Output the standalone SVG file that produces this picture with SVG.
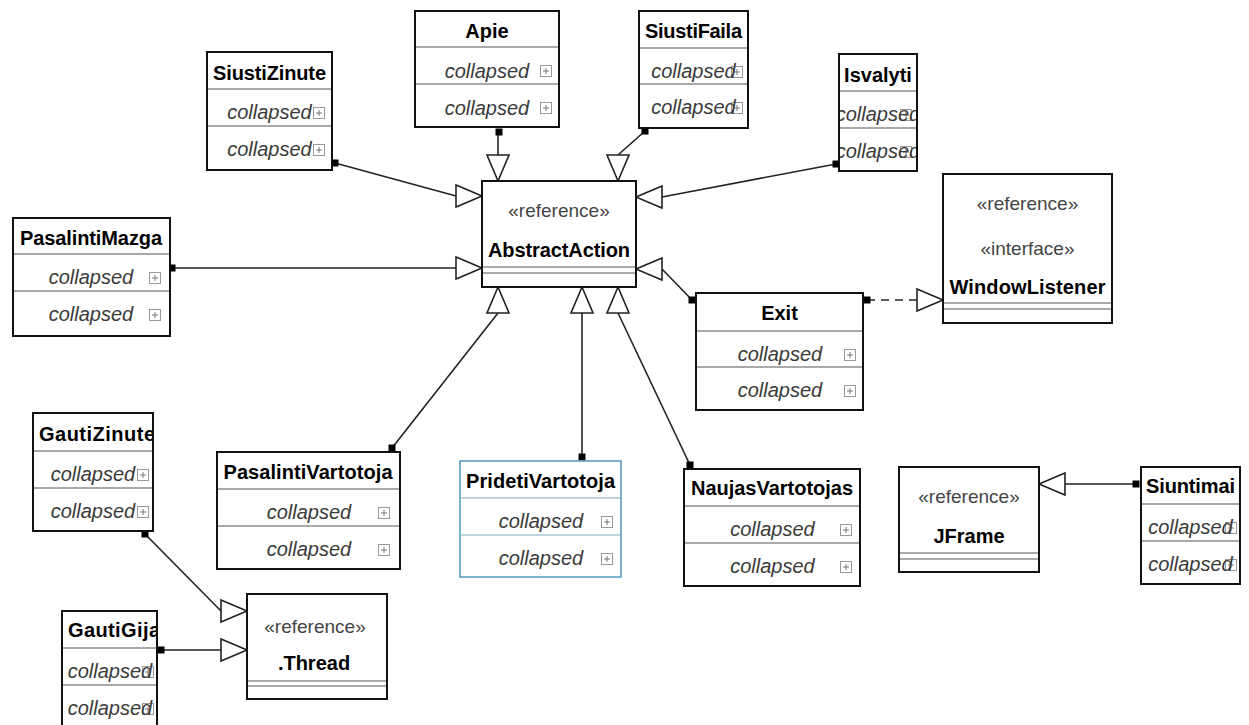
<svg xmlns="http://www.w3.org/2000/svg" xmlns:xlink="http://www.w3.org/1999/xlink" width="1249" height="725" viewBox="0 0 1249 725">
<style>
.box{fill:#fff;stroke:#111;stroke-width:2}
.blue{fill:#fff;stroke:#5a9fc6;stroke-width:1.6}
.dv{stroke:#555;stroke-width:1.2}
.dvb{stroke:#7fa9bf;stroke-width:1.2}
.ttl{font-family:"Liberation Sans",Arial,sans-serif;font-weight:bold;font-size:20px;fill:#000;text-anchor:middle}
.ttls{font-family:"Liberation Sans",Arial,sans-serif;font-weight:bold;font-size:20px;fill:#000;text-anchor:start}
.col{font-family:"Liberation Sans",Arial,sans-serif;font-style:italic;font-size:20px;fill:#3a3a3a;text-anchor:middle}
.st{font-family:"Liberation Sans",Arial,sans-serif;font-size:19px;fill:#444;text-anchor:middle}
.edge{stroke:#222;stroke-width:1.6;fill:none}
.dash{stroke:#222;stroke-width:1.6;fill:none;stroke-dasharray:8 6}
.tri{fill:#fff;stroke:#222;stroke-width:1.6}
.sq{fill:#000}
</style>
<defs>
<g id="plus"><rect x="0.5" y="0.5" width="11" height="11" fill="#fff" stroke="#999" stroke-width="1"/><path d="M3 6h6M6 3v6" stroke="#777" stroke-width="1"/></g>
<clipPath id="cSF"><rect x="640" y="12" width="107" height="115"/></clipPath>
<clipPath id="cIS"><rect x="840" y="55" width="76" height="115"/></clipPath>
<clipPath id="cGZ"><rect x="34" y="414" width="118" height="116"/></clipPath>
<clipPath id="cGG"><rect x="63" y="612" width="93" height="115"/></clipPath>
<clipPath id="cSI"><rect x="1142" y="468" width="97" height="115"/></clipPath>
</defs>
<rect width="1249" height="725" fill="#fff"/>

<g id="connectors">
<line class="edge" x1="335" y1="163" x2="456" y2="196"/>
<polygon class="tri" points="482,196 456,185 456,207"/>
<rect class="sq" x="331.5" y="159.5" width="7" height="7"/>

<line class="edge" x1="498" y1="132" x2="498" y2="155"/>
<polygon class="tri" points="498,181 487,155 509,155"/>
<rect class="sq" x="495.5" y="128.5" width="7" height="7"/>

<line class="edge" x1="645" y1="131" x2="618" y2="155"/>
<polygon class="tri" points="618,181 607,155 629,155"/>
<rect class="sq" x="641.5" y="127.5" width="7" height="7"/>

<line class="edge" x1="836" y1="164" x2="662" y2="197"/>
<polygon class="tri" points="636,197 662,186 662,208"/>
<rect class="sq" x="832.5" y="160.5" width="7" height="7"/>

<line class="edge" x1="172" y1="268" x2="456" y2="268"/>
<polygon class="tri" points="482,268 456,257 456,279"/>
<rect class="sq" x="168.5" y="264.5" width="7" height="7"/>

<line class="edge" x1="692" y1="300" x2="662" y2="269"/>
<polygon class="tri" points="636,269 662,258 662,280"/>
<rect class="sq" x="688.5" y="296.5" width="7" height="7"/>

<line class="edge" x1="392" y1="448" x2="498" y2="313"/>
<polygon class="tri" points="498,287 487,313 509,313"/>
<rect class="sq" x="388.5" y="444.5" width="7" height="7"/>

<line class="edge" x1="582" y1="457" x2="582" y2="313"/>
<polygon class="tri" points="582,287 571,313 593,313"/>
<rect class="sq" x="578.5" y="453.5" width="7" height="7"/>

<line class="edge" x1="690" y1="465" x2="618" y2="313"/>
<polygon class="tri" points="618,287 607,313 629,313"/>
<rect class="sq" x="686.5" y="461.5" width="7" height="7"/>

<line class="dash" x1="867" y1="300" x2="917" y2="300"/>
<polygon class="tri" points="943,300 917,289 917,311"/>
<rect class="sq" x="863.5" y="296.5" width="7" height="7"/>

<line class="edge" x1="1136" y1="484" x2="1065" y2="484"/>
<polygon class="tri" points="1039,484 1065,473 1065,495"/>
<rect class="sq" x="1132.5" y="480.5" width="7" height="7"/>

<line class="edge" x1="145" y1="534" x2="221" y2="611"/>
<polygon class="tri" points="247,611 221,600 221,622"/>
<rect class="sq" x="141.5" y="530.5" width="7" height="7"/>

<line class="edge" x1="161" y1="650" x2="221" y2="650"/>
<polygon class="tri" points="247,650 221,639 221,661"/>
<rect class="sq" x="157.5" y="646.5" width="7" height="7"/>
</g>

<g id="AbstractAction">
<rect class="box" x="482" y="181" width="154" height="106"/>
<text class="st" x="559" y="217">«reference»</text>
<text class="ttl" x="559" y="257" textLength="142">AbstractAction</text>
<line class="dv" x1="483" y1="267" x2="635" y2="267"/>
<line class="dv" x1="483" y1="273" x2="635" y2="273"/>
</g>

<g id="WindowListener">
<rect class="box" x="943" y="174" width="169" height="149"/>
<text class="st" x="1027.5" y="210">«reference»</text>
<text class="st" x="1027.5" y="255">«interface»</text>
<text class="ttl" x="1027.5" y="294" textLength="156">WindowListener</text>
<line class="dv" x1="944" y1="303" x2="1111" y2="303"/>
<line class="dv" x1="944" y1="309" x2="1111" y2="309"/>
</g>

<g id="Thread">
<rect class="box" x="247" y="594" width="140" height="105"/>
<text class="st" x="315" y="633">«reference»</text>
<text class="ttl" x="314" y="670">.Thread</text>
<line class="dv" x1="248" y1="681" x2="386" y2="681"/>
<line class="dv" x1="248" y1="686" x2="386" y2="686"/>
</g>

<g id="JFrame">
<rect class="box" x="899" y="467" width="140" height="105"/>
<text class="st" x="969" y="503">«reference»</text>
<text class="ttl" x="969" y="543">JFrame</text>
<line class="dv" x1="900" y1="553" x2="1038" y2="553"/>
<line class="dv" x1="900" y1="559" x2="1038" y2="559"/>
</g>

<g id="SiustiZinute">
<rect class="box" x="207" y="52" width="125" height="118"/>
<line class="dv" x1="208" y1="89" x2="331" y2="89"/>
<line class="dv" x1="208" y1="126" x2="331" y2="126"/>
<text class="ttl" x="269.5" y="80" textLength="113">SiustiZinute</text>
<use xlink:href="#plus" x="313" y="107"/>
<use xlink:href="#plus" x="313" y="144"/>
<text class="col" x="269.5" y="119">collapsed</text>
<text class="col" x="269.5" y="156">collapsed</text>
</g>

<g id="Apie">
<rect class="box" x="415" y="11" width="144" height="116"/>
<line class="dv" x1="416" y1="47" x2="558" y2="47"/>
<line class="dv" x1="416" y1="84" x2="558" y2="84"/>
<text class="ttl" x="487" y="38">Apie</text>
<use xlink:href="#plus" x="540" y="65"/>
<use xlink:href="#plus" x="540" y="102"/>
<text class="col" x="487" y="78">collapsed</text>
<text class="col" x="487" y="115">collapsed</text>
</g>

<g id="SiustiFaila">
<rect class="box" x="639" y="11" width="109" height="117"/>
<line class="dv" x1="640" y1="48" x2="747" y2="48"/>
<line class="dv" x1="640" y1="84" x2="747" y2="84"/>
<g clip-path="url(#cSF)">
<text class="ttl" x="693.5" y="38" textLength="97">SiustiFaila</text>
<use xlink:href="#plus" x="731" y="66"/>
<use xlink:href="#plus" x="731" y="102"/>
<text class="col" x="693.5" y="78">collapsed</text>
<text class="col" x="693.5" y="114">collapsed</text>
</g>
</g>

<g id="Isvalyti">
<rect class="box" x="839" y="54" width="78" height="117"/>
<line class="dv" x1="840" y1="91" x2="916" y2="91"/>
<line class="dv" x1="840" y1="128" x2="916" y2="128"/>
<g clip-path="url(#cIS)">
<text class="ttl" x="878" y="82">Isvalyti</text>
<use xlink:href="#plus" x="900" y="109"/>
<use xlink:href="#plus" x="900" y="146"/>
<text class="col" x="878" y="121">collapsed</text>
<text class="col" x="878" y="158">collapsed</text>
</g>
</g>

<g id="PasalintiMazga">
<rect class="box" x="13" y="218" width="157" height="118"/>
<line class="dv" x1="14" y1="254" x2="169" y2="254"/>
<line class="dv" x1="14" y1="291" x2="169" y2="291"/>
<text class="ttl" x="91" y="245" textLength="142">PasalintiMazga</text>
<use xlink:href="#plus" x="149" y="272"/>
<use xlink:href="#plus" x="149" y="309"/>
<text class="col" x="91" y="284">collapsed</text>
<text class="col" x="91" y="321">collapsed</text>
</g>

<g id="Exit">
<rect class="box" x="696" y="293" width="167" height="117"/>
<line class="dv" x1="697" y1="331" x2="862" y2="331"/>
<line class="dv" x1="697" y1="367" x2="862" y2="367"/>
<text class="ttl" x="779.5" y="320">Exit</text>
<use xlink:href="#plus" x="844" y="349"/>
<use xlink:href="#plus" x="844" y="385"/>
<text class="col" x="780" y="361">collapsed</text>
<text class="col" x="780" y="397">collapsed</text>
</g>

<g id="GautiZinute">
<rect class="box" x="33" y="413" width="120" height="118"/>
<line class="dv" x1="34" y1="451" x2="152" y2="451"/>
<line class="dv" x1="34" y1="488" x2="152" y2="488"/>
<g clip-path="url(#cGZ)">
<text class="ttls" x="39" y="441" textLength="116">GautiZinute</text>
<use xlink:href="#plus" x="137" y="469"/>
<use xlink:href="#plus" x="137" y="506"/>
<text class="col" x="93" y="481">collapsed</text>
<text class="col" x="93" y="518">collapsed</text>
</g>
</g>

<g id="PasalintiVartotoja">
<rect class="box" x="217" y="452" width="183" height="117"/>
<line class="dv" x1="218" y1="489" x2="399" y2="489"/>
<line class="dv" x1="218" y1="526" x2="399" y2="526"/>
<text class="ttl" x="308" y="479" textLength="169">PasalintiVartotoja</text>
<use xlink:href="#plus" x="378" y="507"/>
<use xlink:href="#plus" x="378" y="544"/>
<text class="col" x="309" y="519">collapsed</text>
<text class="col" x="309" y="556">collapsed</text>
</g>

<g id="PridetiVartotoja">
<rect class="blue" x="460" y="461" width="161" height="116"/>
<line class="dvb" x1="461" y1="498" x2="620" y2="498"/>
<line class="dvb" x1="461" y1="535" x2="620" y2="535"/>
<text class="ttl" x="540.5" y="488" textLength="149">PridetiVartotoja</text>
<use xlink:href="#plus" x="601" y="516"/>
<use xlink:href="#plus" x="601" y="553"/>
<text class="col" x="541" y="528">collapsed</text>
<text class="col" x="541" y="565">collapsed</text>
</g>

<g id="NaujasVartotojas">
<rect class="box" x="684" y="469" width="176" height="117"/>
<line class="dv" x1="685" y1="506" x2="859" y2="506"/>
<line class="dv" x1="685" y1="543" x2="859" y2="543"/>
<text class="ttl" x="772" y="495" textLength="162">NaujasVartotojas</text>
<use xlink:href="#plus" x="840" y="524"/>
<use xlink:href="#plus" x="840" y="561"/>
<text class="col" x="772.5" y="536">collapsed</text>
<text class="col" x="772.5" y="573">collapsed</text>
</g>

<g id="Siuntimai">
<rect class="box" x="1141" y="467" width="99" height="117"/>
<line class="dv" x1="1142" y1="504" x2="1239" y2="504"/>
<line class="dv" x1="1142" y1="541" x2="1239" y2="541"/>
<g clip-path="url(#cSI)">
<text class="ttl" x="1190.5" y="493" textLength="89">Siuntimai</text>
<use xlink:href="#plus" x="1225" y="522"/>
<use xlink:href="#plus" x="1225" y="559"/>
<text class="col" x="1190.5" y="534">collapsed</text>
<text class="col" x="1190.5" y="571">collapsed</text>
</g>
</g>

<g id="GautiGija">
<rect class="box" x="62" y="611" width="95" height="117"/>
<line class="dv" x1="63" y1="648" x2="156" y2="648"/>
<line class="dv" x1="63" y1="685" x2="156" y2="685"/>
<g clip-path="url(#cGG)">
<text class="ttls" x="68" y="637" textLength="92">GautiGija</text>
<use xlink:href="#plus" x="142" y="666"/>
<use xlink:href="#plus" x="142" y="703"/>
<text class="col" x="110" y="678">collapsed</text>
<text class="col" x="110" y="715">collapsed</text>
</g>
</g>
</svg>
